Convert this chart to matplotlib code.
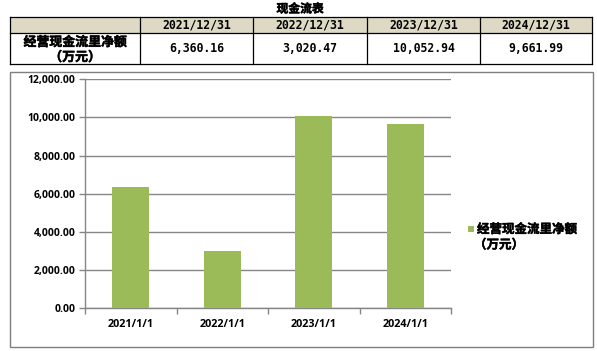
import matplotlib
matplotlib.use("Agg")
import matplotlib.pyplot as plt
from matplotlib.patches import Rectangle
import matplotlib.patheffects as pe
import numpy as np

plt.rcParams['font.family'] = ['Noto Sans CJK SC', 'DejaVu Sans']

title = "现金流表"
row_label = ["经营现金流里净额", "（万元）"]
header_dates = ["2021/12/31", "2022/12/31", "2023/12/31", "2024/12/31"]
table_values = ["6,360.16", "3,020.47", "10,052.94", "9,661.99"]
categories = ["2021/1/1", "2022/1/1", "2023/1/1", "2024/1/1"]
values = [6360.16, 3020.47, 10052.94, 9661.99]
legend_label = "经营现金流里净额\n（万元）"
yticks = [0, 2000, 4000, 6000, 8000, 10000, 12000]

W, H = 597, 351
fig = plt.figure(figsize=(W / 100, H / 100), dpi=100)
bold_fx = [pe.withStroke(linewidth=0.35, foreground='black')]

# overlay in pixel coordinates
ov = fig.add_axes([0, 0, 1, 1])
ov.set_xlim(0, W)
ov.set_ylim(H, 0)
ov.axis('off')

# title
ov.text(300, 9, title, ha='center', va='center', fontsize=8.5, fontweight='bold',
        color='black', path_effects=bold_fx)

# table
col_edges = [10, 140, 253, 367, 480, 592]
top, hdr_bot, bot = 17, 33, 64
ov.add_patch(Rectangle((col_edges[0], top), col_edges[-1] - col_edges[0], hdr_bot - top,
                       facecolor='#DDD9C4', edgecolor='none', zorder=1))
for x in col_edges:
    ov.plot([x, x], [top, bot], color='black', lw=0.9, zorder=2)
for y in (top, hdr_bot, bot):
    ov.plot([col_edges[0], col_edges[-1]], [y, y], color='black', lw=0.9, zorder=2)
mono = ['DejaVu Sans Mono', 'DejaVu Sans']
for i, d in enumerate(header_dates):
    cx = (col_edges[i + 1] + col_edges[i + 2]) / 2
    ov.text(cx, (top + hdr_bot) / 2 + 0.5, d, ha='center', va='center', fontsize=8.3,
            fontweight='bold', family=mono)
    ov.text(cx, (hdr_bot + bot) / 2, table_values[i], ha='center', va='center', fontsize=8.3,
            fontweight='bold', family=mono)
cx0 = (col_edges[0] + col_edges[1]) / 2
ov.text(cx0, 42, row_label[0], ha='center', va='center', fontsize=9.3, fontweight='bold',
        path_effects=bold_fx)
ov.text(cx0, 57, row_label[1], ha='center', va='center', fontsize=9.3, fontweight='bold',
        path_effects=bold_fx)

# chart frame
ov.add_patch(Rectangle((10, 72), 583, 275, facecolor='none', edgecolor='#7F7F7F', lw=1.0, zorder=1))

# main axes
left, right, ytop, ybot = 85, 451, 79.3, 308.3
ax = fig.add_axes([left / W, (H - ybot) / H, (right - left) / W, (ybot - ytop) / H])
ax.set_facecolor('none')
x = np.arange(len(categories))
ax.bar(x, values, width=0.4, color='#9BBB59', zorder=3, label=legend_label)
ax.set_xlim(-0.5, len(categories) - 0.5)
ax.set_ylim(0, 12000)
ax.set_yticks(yticks)
tickfam = ['Open Sans', 'DejaVu Sans']
ax.set_yticklabels([f"{v:,.2f}" for v in yticks], fontsize=7.5, fontweight='bold', family=tickfam)
ax.yaxis.grid(True, color='#868686', lw=1.0, zorder=0)
ax.set_axisbelow(True)
ax.set_xticks(x)
ax.set_xticklabels(categories, fontsize=7.8, fontweight='bold', family=tickfam)
ax.tick_params(axis='x', which='major', length=0, pad=8)
ax.set_xticks(np.arange(-0.5, len(categories), 1.0), minor=True)
ax.tick_params(axis='x', which='minor', length=4, color='#868686', width=1.0)
ax.tick_params(axis='y', length=4, color='#868686', width=1.0, pad=3)
for s in ('top', 'right'):
    ax.spines[s].set_visible(False)
for s in ('left', 'bottom'):
    ax.spines[s].set_color('#868686')
    ax.spines[s].set_linewidth(1.0)

# legend
ov.add_patch(Rectangle((468, 226), 6, 6, facecolor='#9BBB59', edgecolor='none', zorder=3))
lines = legend_label.split("\n")
ov.text(477, 229.5, lines[0], ha='left', va='center', fontsize=9, fontweight='bold',
        path_effects=bold_fx)
ov.text(474, 245, lines[1], ha='left', va='center', fontsize=9, fontweight='bold',
        path_effects=bold_fx)

fig.savefig("out.png", dpi=100)
